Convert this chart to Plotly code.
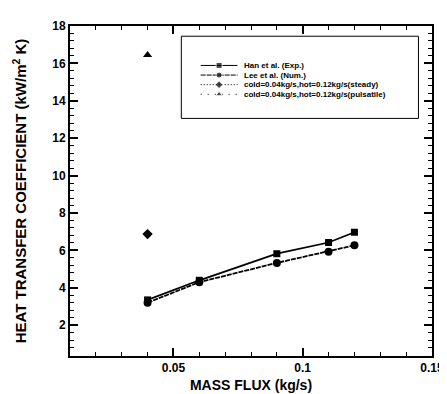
import plotly.graph_objects as go

# ---- data ----
han_x = [0.04, 0.06, 0.09, 0.11, 0.12]
han_y = [3.35, 4.40, 5.82, 6.42, 6.97]
lee_x = [0.04, 0.06, 0.09, 0.11, 0.12]
lee_y = [3.20, 4.30, 5.33, 5.93, 6.27]
steady_x = [0.04]
steady_y = [6.87]
puls_x = [0.04]
puls_y = [16.45]
names = ["Han et al. (Exp.)", "Lee et al. (Num.)",
         "cold=0.04kg/s,hot=0.12kg/s(steady)",
         "cold=0.04kg/s,hot=0.12kg/s(pulsatile)"]
x_ticks = [0.05, 0.1, 0.15]
x_ticklabels = ["0.05", "0.1", "0.15"]
y_ticks = [2, 4, 6, 8, 10, 12, 14, 16, 18]

FONT = "Arial, Liberation Sans, sans-serif"
fig = go.Figure()

fig.add_trace(go.Scatter(x=han_x, y=han_y, mode="lines+markers",
                         line=dict(color="black", width=1.8),
                         marker=dict(symbol="square", size=7, color="black"),
                         showlegend=False))
fig.add_trace(go.Scatter(x=lee_x, y=lee_y, mode="lines+markers",
                         line=dict(color="black", width=1.8, dash="5px,1px"),
                         marker=dict(symbol="circle", size=8, color="black"),
                         showlegend=False))
fig.add_trace(go.Scatter(x=steady_x, y=steady_y, mode="markers",
                         marker=dict(symbol="diamond", size=8, color="black"),
                         showlegend=False))
fig.add_trace(go.Scatter(x=puls_x, y=puls_y, mode="markers",
                         marker=dict(symbol="triangle-up", size=8, color="black"),
                         showlegend=False))

# ---- custom compact legend (overlay axes 0..1 over plot area) ----
leg_rows = [0.8805, 0.8513, 0.8222, 0.7930]
leg_sym = ["square", "circle", "diamond", "triangle-up"]
leg_dash = ["solid", "5px,1px", "1px,2px", "1px,6px"]
leg_x = [0.361, 0.4118, 0.4626]
for r, s, d, n in zip(leg_rows, leg_sym, leg_dash, names):
    fig.add_trace(go.Scatter(x=leg_x, y=[r, r, r], xaxis="x2", yaxis="y2",
                             mode="lines+markers",
                             line=dict(color="black", width=1, dash=d),
                             marker=dict(symbol=s, size=[0, 6, 0], color="black"),
                             showlegend=False, hoverinfo="skip"))
    fig.add_annotation(x=0.476, y=r, xref="x2", yref="y2", text="<b>" + n + "</b>",
                       showarrow=False, xanchor="left", yanchor="middle",
                       font=dict(family=FONT, size=8, color="black"))
fig.add_shape(type="rect", xref="x2", yref="y2", x0=0.3075, x1=0.9626,
              y0=0.720, y1=0.969, line=dict(color="black", width=1))

axis_common = dict(showline=True, linecolor="black", linewidth=2, mirror="ticks",
                   ticks="inside", ticklen=8, tickwidth=2, tickcolor="black",
                   showgrid=False, zeroline=False,
                   tickfont=dict(family=FONT, size=12, color="black"))

fig.update_layout(
    width=447, height=394,
    margin=dict(l=62, r=11, t=11, b=40),
    paper_bgcolor="white", plot_bgcolor="white",
    font=dict(family=FONT, color="black"),
    xaxis=dict(range=[0.01, 0.15], tickvals=x_ticks,
               ticktext=["<b>%s</b>" % t for t in x_ticklabels],
               minor=dict(dtick=0.01, ticks="inside", ticklen=4, tickwidth=1,
                          tickcolor="black"),
               title=dict(text="<b>MASS FLUX (kg/s)</b>", standoff=6,
                          font=dict(family=FONT, size=14, color="black")),
               **axis_common),
    yaxis=dict(range=[0.35, 18], tickvals=y_ticks,
               ticktext=["<b>%d</b>" % t for t in y_ticks],
               minor=dict(dtick=0.4, tick0=2, ticks="inside", ticklen=4, tickwidth=1,
                          tickcolor="black"),
               title=dict(text="<b>HEAT TRANSFER COEFFICIENT (kW/m<sup>2</sup> K)</b>",
                          standoff=22,
                          font=dict(family=FONT, size=15, color="black")),
               **axis_common),
    xaxis2=dict(range=[0, 1], overlaying="x", visible=False, fixedrange=True),
    yaxis2=dict(range=[0, 1], overlaying="y", visible=False, fixedrange=True),
)

fig.write_html("out.html")
